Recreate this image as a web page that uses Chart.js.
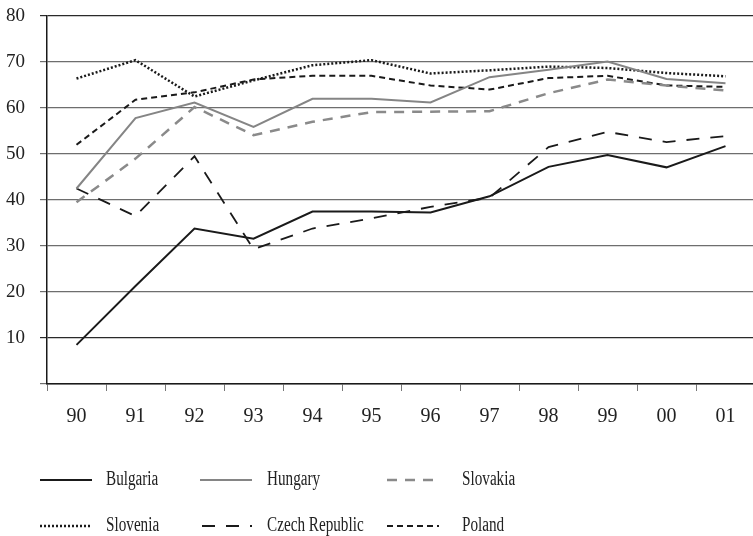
<!DOCTYPE html>
<html>
<head>
<meta charset="utf-8">
<script src="https://cdn.jsdelivr.net/npm/chart.js@4"></script>
<style>
html, body { margin: 0; padding: 0; overflow: hidden; background: #fff; }
</style>
</head>
<body>
<canvas id="myChart" width="755" height="536"></canvas>
<script>
const labels = ["90", "91", "92", "93", "94", "95", "96", "97", "98", "99", "00", "01"];

const bulgaria = [8.5, 21.3, 33.8, 31.6, 37.5, 37.5, 37.3, 40.8, 47.2, 49.8, 47.1, 51.7];
const hungary  = [42.5, 57.8, 61.2, 55.9, 62.0, 62.0, 61.2, 66.7, 68.3, 70.1, 66.3, 65.4];
const slovakia = [39.5, 49.0, 60.2, 54.1, 57.0, 59.1, 59.2, 59.3, 63.2, 66.2, 64.9, 63.8];
const slovenia = [66.4, 70.4, 62.5, 66.0, 69.3, 70.4, 67.5, 68.2, 69.0, 68.7, 67.6, 66.9];
const czech    = [42.5, 36.5, 49.5, 29.3, 33.8, 36.0, 38.5, 40.5, 51.5, 54.8, 52.6, 53.9];
const poland   = [52.0, 61.8, 63.4, 66.2, 67.0, 67.0, 64.9, 64.0, 66.5, 67.0, 64.9, 64.6];

const yTicks = [0, 10, 20, 30, 40, 50, 60, 70, 80];

const data = {
    labels: labels,
    datasets: [
        { label: "Bulgaria", data: bulgaria, borderColor: "#1a1a1a", borderWidth: 2, borderDash: [] },
        { label: "Hungary", data: hungary, borderColor: "#858585", borderWidth: 2, borderDash: [] },
        { label: "Slovakia", data: slovakia, borderColor: "#8a8a8a", borderWidth: 2.5, borderDash: [10, 8] },
        { label: "Slovenia", data: slovenia, borderColor: "#1a1a1a", borderWidth: 2.5, borderDash: [2, 2] },
        { label: "Czech Republic", data: czech, borderColor: "#1a1a1a", borderWidth: 1.8, borderDash: [13, 11] },
        { label: "Poland", data: poland, borderColor: "#1a1a1a", borderWidth: 2, borderDash: [6, 4] },
    ],
};

// legend slots: line start, line end, text x, row y
const legendSlots = [
    [40, 92, 106, 480], [200, 252, 267, 480], [387, 435, 462, 480],
    [40, 90, 106, 526], [202, 252, 267, 526], [387, 439, 462, 526],
];

const bottomLegend = {
    id: "bottomLegend",
    afterDraw(chart) {
        const ctx = chart.ctx;
        chart.data.datasets.forEach(function(ds, i) {
            const s = legendSlots[i];
            ctx.save();
            ctx.strokeStyle = ds.borderColor;
            ctx.lineWidth = ds.borderWidth;
            ctx.setLineDash(ds.borderDash);
            ctx.beginPath();
            ctx.moveTo(s[0], s[3]);
            ctx.lineTo(s[1], s[3]);
            ctx.stroke();
            ctx.setLineDash([]);
            ctx.fillStyle = "#222";
            ctx.font = '20px "Liberation Serif"';
            ctx.textBaseline = "middle";
            ctx.translate(s[2], s[3]);
            ctx.scale(0.76, 1);
            ctx.fillText(ds.label, 0, 0);
            ctx.restore();
        });
    }
};

const config = {
    type: "line",
    data: data,
    plugins: [bottomLegend],
    options: {
        responsive: false,
        animation: false,
        layout: { padding: { top: 16, left: 0, right: 0, bottom: 0 } },
        elements: {
            point: { radius: 0 },
            line: { tension: 0, fill: false },
        },
        plugins: {
            legend: { display: false },
            tooltip: { enabled: false },
        },
        scales: {
            x: {
                offset: true,
                grid: {
                    offset: true,
                    drawOnChartArea: false,
                    drawTicks: true,
                    tickLength: 7,
                    color: "#777",
                },
                border: { display: true, color: "#1a1a1a", width: 1.5 },
                ticks: {
                    color: "#222",
                    padding: 14,
                    maxRotation: 0,
                    autoSkip: false,
                    font: { family: "Liberation Serif", size: 20 },
                },
                afterFit: function(scale) {
                    scale.height = 152;
                    scale.paddingLeft = 0;
                    scale.paddingRight = 0;
                },
            },
            y: {
                min: 0,
                max: 80,
                afterBuildTicks: function(scale) {
                    scale.ticks = yTicks.map(function(v) { return { value: v }; });
                },
                grid: {
                    tickLength: 7,
                    color: function(c) {
                        return c.tick && (c.tick.value === 80 || c.tick.value === 10) ? "#2a2a2a" : "#6e6e6e";
                    },
                    lineWidth: 1.2,
                },
                border: { display: true, color: "#1a1a1a", width: 1.5 },
                ticks: {
                    color: "#222",
                    padding: 15,
                    font: { family: "Liberation Serif", size: 19 },
                    callback: function(v) { return v === 0 ? "" : v; },
                },
                afterFit: function(scale) {
                    scale.width = 47;
                    scale.paddingTop = 0;
                    scale.paddingBottom = 0;
                },
            },
        },
    },
};

const myChart = new Chart(document.getElementById("myChart"), config);
</script>
</body>
</html>
